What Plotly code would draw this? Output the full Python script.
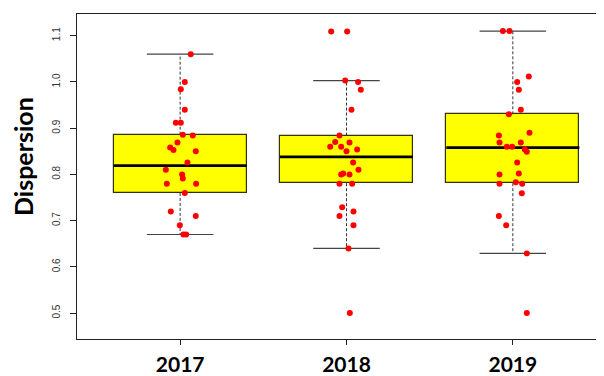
import plotly.graph_objects as go

# ---------------- data ----------------
years = ["2017", "2018", "2019"]
positions = [1, 2, 3]

# box statistics (lower whisker, Q1, median, Q3, upper whisker)
whisk_low = [0.670, 0.640, 0.629]
q1 = [0.760, 0.781, 0.781]
median = [0.819, 0.838, 0.858]
q3 = [0.886, 0.884, 0.930]
whisk_high = [1.060, 1.003, 1.110]

# observations per year
vals_2017 = [1.060, 1.000, 0.984, 0.940, 0.912, 0.912, 0.886, 0.884, 0.869, 0.858,
             0.853, 0.850, 0.826, 0.810, 0.800, 0.791, 0.780, 0.780, 0.760, 0.720,
             0.710, 0.690, 0.670, 0.670]
vals_2018 = [1.109, 1.109, 1.003, 1.000, 0.983, 0.940, 0.884, 0.870, 0.869, 0.860,
             0.860, 0.854, 0.850, 0.826, 0.810, 0.800, 0.802, 0.800, 0.780, 0.780,
             0.729, 0.720, 0.710, 0.690, 0.640, 0.500]
vals_2019 = [1.110, 1.110, 1.012, 1.000, 0.983, 0.940, 0.930, 0.890, 0.884, 0.869,
             0.869, 0.860, 0.860, 0.854, 0.849, 0.826, 0.802, 0.800, 0.780, 0.783,
             0.780, 0.759, 0.710, 0.690, 0.629, 0.500]

# horizontal jitter of each observation (in category units)
jit_2017 = [0.064, 0.028, 0.004, 0.028, -0.026, 0.004, 0.016, 0.076, -0.016, -0.060,
            -0.040, 0.094, 0.044, -0.086, 0.012, 0.016, -0.080, 0.096, 0.028, -0.056,
            0.094, -0.002, 0.020, 0.036]
jit_2018 = [-0.092, 0.004, -0.008, 0.070, 0.086, 0.030, -0.042, -0.068, 0.018, -0.098,
            -0.032, 0.064, 0.000, 0.040, 0.072, -0.032, -0.020, 0.018, -0.042, 0.034,
            -0.026, 0.042, -0.042, 0.042, 0.012, 0.020]
jit_2019 = [-0.060, -0.020, 0.096, 0.026, 0.036, 0.048, -0.024, 0.100, -0.084, -0.080,
            0.048, -0.036, -0.004, 0.072, 0.084, 0.026, 0.036, -0.080, -0.080, 0.018,
            0.056, 0.054, -0.084, -0.040, 0.084, 0.084]

y_ticks = [0.5, 0.6, 0.7, 0.8, 0.9, 1.0, 1.1]
y_ticktext = ["0.5", "0.6", "0.7", "0.8", "0.9", "1.0", "1.1"]

# ---------------- styling ----------------
BOX_W = 0.8
CAP_W = 0.4

fig = go.Figure()

# dashed whiskers
wx, wy = [], []
for p, lo, a, b, hi in zip(positions, whisk_low, q1, q3, whisk_high):
    wx += [p, p, None, p, p, None]
    wy += [b, hi, None, a, lo, None]
fig.add_trace(go.Scatter(x=wx, y=wy, mode="lines",
                         line=dict(color="#333333", width=1, dash="3px,2px"),
                         hoverinfo="skip", showlegend=False))

# boxes
fig.add_trace(go.Bar(x=positions, y=[b - a for a, b in zip(q1, q3)], base=q1,
                     width=BOX_W, marker=dict(color="#FFFF00",
                                              line=dict(color="#333300", width=1.2)),
                     hoverinfo="skip", showlegend=False))

# medians
mx, my = [], []
for p, m in zip(positions, median):
    mx += [p - BOX_W / 2, p + BOX_W / 2, None]
    my += [m, m, None]
fig.add_trace(go.Scatter(x=mx, y=my, mode="lines",
                         line=dict(color="black", width=2.6),
                         hoverinfo="skip", showlegend=False))

# caps
cx, cy = [], []
for p, lo, hi in zip(positions, whisk_low, whisk_high):
    cx += [p - CAP_W / 2, p + CAP_W / 2, None, p - CAP_W / 2, p + CAP_W / 2, None]
    cy += [hi, hi, None, lo, lo, None]
fig.add_trace(go.Scatter(x=cx, y=cy, mode="lines",
                         line=dict(color="#444444", width=1.2),
                         hoverinfo="skip", showlegend=False))

# points
for p, vals, jit in zip(positions, [vals_2017, vals_2018, vals_2019],
                        [jit_2017, jit_2018, jit_2019]):
    fig.add_trace(go.Scatter(x=[p + j for j in jit], y=vals, mode="markers",
                             marker=dict(color="#FF0000", size=6, line=dict(width=0)),
                             showlegend=False))

fig.update_layout(
    width=596, height=368,
    margin=dict(l=69, r=0, t=6, b=35),
    paper_bgcolor="white", plot_bgcolor="white",
    bargap=0,
    xaxis=dict(range=[0.38, 3.548], tickvals=positions, ticktext=years,
               showgrid=False, zeroline=False,
               showline=True, linecolor="#222222", linewidth=1, mirror=True,
               ticks="outside", ticklen=5, tickcolor="#222222",
               ticklabelstandoff=2,
               tickfont=dict(family="Lato", size=21, color="black", weight="bold")),
    yaxis=dict(range=[0.444, 1.147], tickvals=y_ticks, ticktext=y_ticktext,
               showgrid=False, zeroline=False,
               showline=True, linecolor="#222222", linewidth=1,
               ticks="outside", ticklen=6, tickcolor="#222222", tickangle=-90,
               ticklabelstandoff=6,
               tickfont=dict(family="Liberation Sans", size=10, color="#333333")),
    annotations=[dict(text="<b>Dispersion</b>", xref="paper", yref="paper",
                      x=-0.1025, y=0.563, xanchor="center", yanchor="middle",
                      textangle=-90, showarrow=False,
                      font=dict(family="Lato", size=25, color="black", weight=900))],
)

fig.write_html("out.html")
